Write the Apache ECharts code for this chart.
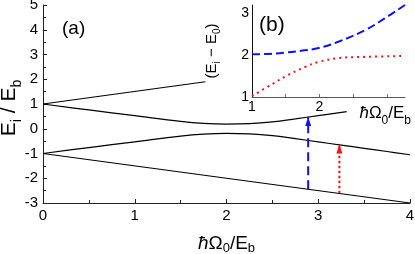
<!DOCTYPE html>
<html>
<head>
<meta charset="utf-8">
<script src="https://cdn.jsdelivr.net/npm/echarts@6/dist/echarts.min.js"></script>
<style>
html,body{margin:0;padding:0;background:#fff;}
#chart{width:415px;height:254px;}
</style>
</head>
<body>
<div id="chart"></div>
<script>
// ---- main panel (a) ----
const xTicks = [0, 1, 2, 3, 4];
const yTicks = [-3, -2, -1, 0, 1, 2, 3, 4, 5];
const topX = [0, 1.77];
const topY = [1, 1.9];
const upX = [0, 0.5, 1.0, 1.5, 1.75, 2.0, 2.25, 2.5, 2.75, 3.0, 3.31];
const upY = [1.0, 0.76, 0.53, 0.30, 0.22, 0.19, 0.21, 0.28, 0.40, 0.53, 0.69];
const lowX = [0, 0.5, 1.0, 1.5, 1.75, 2.0, 2.25, 2.5, 2.75, 3.0, 3.25, 3.5, 3.75, 4.0];
const lowY = [-1.0, -0.76, -0.53, -0.30, -0.22, -0.19, -0.21, -0.28, -0.40, -0.53, -0.66, -0.79, -0.92, -1.05];
const botX = [0, 4];
const botY = [-1, -3];
const blueArrowX = 2.89;
const blueArrowY = [-2.44, 0.47];
const redArrowX = 3.23;
const redArrowY = [-2.61, -0.64];
// ---- inset panel (b) ----
const insetYTicks = [1, 2, 3];
const insetXTicks = [1, 2];
const insetBlueX = [1, 1.25, 1.49, 1.75, 1.99, 2.28, 2.68, 2.97, 3.27];
const insetBlueY = [2.02, 2.03, 2.06, 2.11, 2.17, 2.32, 2.6, 2.88, 3.2];
const insetRedX = [1, 1.3, 1.54, 1.79, 1.99, 2.28, 2.68, 3.27];
const insetRedY = [1.02, 1.31, 1.53, 1.72, 1.84, 1.93, 1.96, 1.98];

const zip = (xs, ys) => xs.map((x, i) => [x, ys[i]]);
const FONT = "'Liberation Sans', Arial, Helvetica, sans-serif";
const subRich = (size, pad) => ({
  s: { fontSize: size, fontFamily: FONT, color: '#000', padding: [pad, 0, 0, 0] },
  h: { fontStyle: 'italic', fontFamily: FONT, color: '#000' }
});

const blackLine = { color: '#000', width: 1.2 };

function arrow(x, ys, color, dash) {
  return {
    type: 'line', xAxisIndex: 0, yAxisIndex: 0,
    data: [
      { value: [x, ys[0]], symbol: 'none' },
      { value: [x, ys[1]], symbol: 'triangle', symbolSize: [6, 9], symbolOffset: [0, 4.5] }
    ],
    showSymbol: true, showAllSymbol: true,
    itemStyle: { color: color },
    lineStyle: { color: color, width: 2, type: dash },
    silent: true, animation: false, z: 3
  };
}

const chart = echarts.init(document.getElementById('chart'), null, { renderer: 'canvas' });
chart.setOption({
  animation: false,
  backgroundColor: '#fff',
  textStyle: { fontFamily: FONT },
  grid: [
    { left: 43, right: 5, top: 5, bottom: 51, containLabel: false, outerBoundsMode: 'none' },
    { left: 252, right: 10, top: 5, bottom: 157, containLabel: false, outerBoundsMode: 'none' }
  ],
  xAxis: [
    {
      gridIndex: 0, type: 'value', min: 0, max: 4, interval: 1,
      axisLine: { show: true, onZero: false, lineStyle: { color: '#222', width: 1 } },
      axisTick: { show: true, inside: true, length: 4, lineStyle: { color: '#222' } },
      minorTick: { show: true, splitNumber: 2, length: 3, lineStyle: { color: '#222' } },
      splitLine: { show: false },
      axisLabel: { color: '#000', fontSize: 15, margin: 5, fontFamily: FONT, customValues: xTicks },
      name: '{h|ħ}Ω{s|0}/E{s|b}',
      nameLocation: 'middle', nameGap: 29.5,
      nameTextStyle: { fontSize: 19, color: '#000', fontFamily: FONT, rich: subRich(13, 9) }
    },
    {
      gridIndex: 1, type: 'value', min: 1, max: 3.27, interval: 0.5,
      axisLine: { show: true, onZero: false, lineStyle: { color: '#555', width: 1 } },
      axisTick: { show: true, inside: true, length: 3, lineStyle: { color: '#777' }, customValues: [1.5, 2, 2.5, 3] },
      splitLine: { show: false },
      axisLabel: { color: '#000', fontSize: 14, margin: 3, fontFamily: FONT, customValues: insetXTicks },
      name: '{h|ħ}Ω{s|0}/E{s|b}',
      nameLocation: 'end', nameGap: 6,
      nameTextStyle: { fontSize: 17, color: '#000', fontFamily: FONT, align: 'right', verticalAlign: 'top', padding: [2, 0, 0, 0], rich: subRich(12, 16) },
      z: 5
    }
  ],
  yAxis: [
    {
      gridIndex: 0, type: 'value', min: -3, max: 5, interval: 1,
      axisLine: { show: true, onZero: false, lineStyle: { color: '#222', width: 1 } },
      axisTick: { show: true, inside: true, length: 4, lineStyle: { color: '#222' } },
      minorTick: { show: true, splitNumber: 2, length: 3, lineStyle: { color: '#222' } },
      splitLine: { show: false },
      axisLabel: { color: '#000', fontSize: 15, margin: 5, fontFamily: FONT, customValues: yTicks }
    },
    {
      gridIndex: 1, type: 'value', min: 1, max: 3.2, interval: 1,
      axisLine: { show: true, onZero: false, lineStyle: { color: '#111', width: 1 } },
      axisTick: { show: false },
      splitLine: { show: false },
      axisLabel: { color: '#000', fontSize: 14, margin: 3, fontFamily: FONT, customValues: insetYTicks },
      name: '(E{s|i} − E{s|0})',
      nameLocation: 'middle', nameGap: 30, nameRotate: 90,
      nameTextStyle: { fontSize: 15, color: '#000', fontFamily: FONT, rich: subRich(10, 10) }
    }
  ],
  series: [
    { type: 'line', xAxisIndex: 0, yAxisIndex: 0, data: zip(topX, topY), showSymbol: false, lineStyle: blackLine, z: 2 },
    { type: 'line', xAxisIndex: 0, yAxisIndex: 0, data: zip(upX, upY), showSymbol: false, smooth: 0.4, lineStyle: blackLine, z: 2 },
    { type: 'line', xAxisIndex: 0, yAxisIndex: 0, data: zip(lowX, lowY), showSymbol: false, smooth: 0.4, lineStyle: blackLine, z: 2 },
    { type: 'line', xAxisIndex: 0, yAxisIndex: 0, data: zip(botX, botY), showSymbol: false, lineStyle: blackLine, z: 2 },
    arrow(blueArrowX, blueArrowY, '#1010ff', [9, 5]),
    arrow(redArrowX, redArrowY, '#ff1010', [2.5, 2.5]),
    { type: 'line', xAxisIndex: 1, yAxisIndex: 1, data: zip(insetBlueX, insetBlueY), showSymbol: false, smooth: 0.4, lineStyle: { color: '#1010ff', width: 2, type: [8, 4] } },
    { type: 'line', xAxisIndex: 1, yAxisIndex: 1, data: zip(insetRedX, insetRedY), showSymbol: false, smooth: 0.4, lineStyle: { color: '#ff1010', width: 2, type: [2, 4] } }
  ],
  graphic: [
    { type: 'text', left: 62, top: 19, style: { text: '(a)', font: '19px ' + FONT, fill: '#000' } },
    { type: 'text', left: 259, top: 15, style: { text: '(b)', font: '21px ' + FONT, fill: '#000' } },
    {
      type: 'text', x: 9, y: 108, rotation: Math.PI / 2,
      style: {
        text: 'E{s|i} / E{s|b}', fontSize: 21, fontFamily: FONT, fill: '#000',
        align: 'center', verticalAlign: 'middle',
        rich: { s: { fontSize: 14, fontFamily: FONT, fill: '#000', padding: [16, 0, 0, 0] } }
      }
    }
  ]
});
</script>
</body>
</html>
